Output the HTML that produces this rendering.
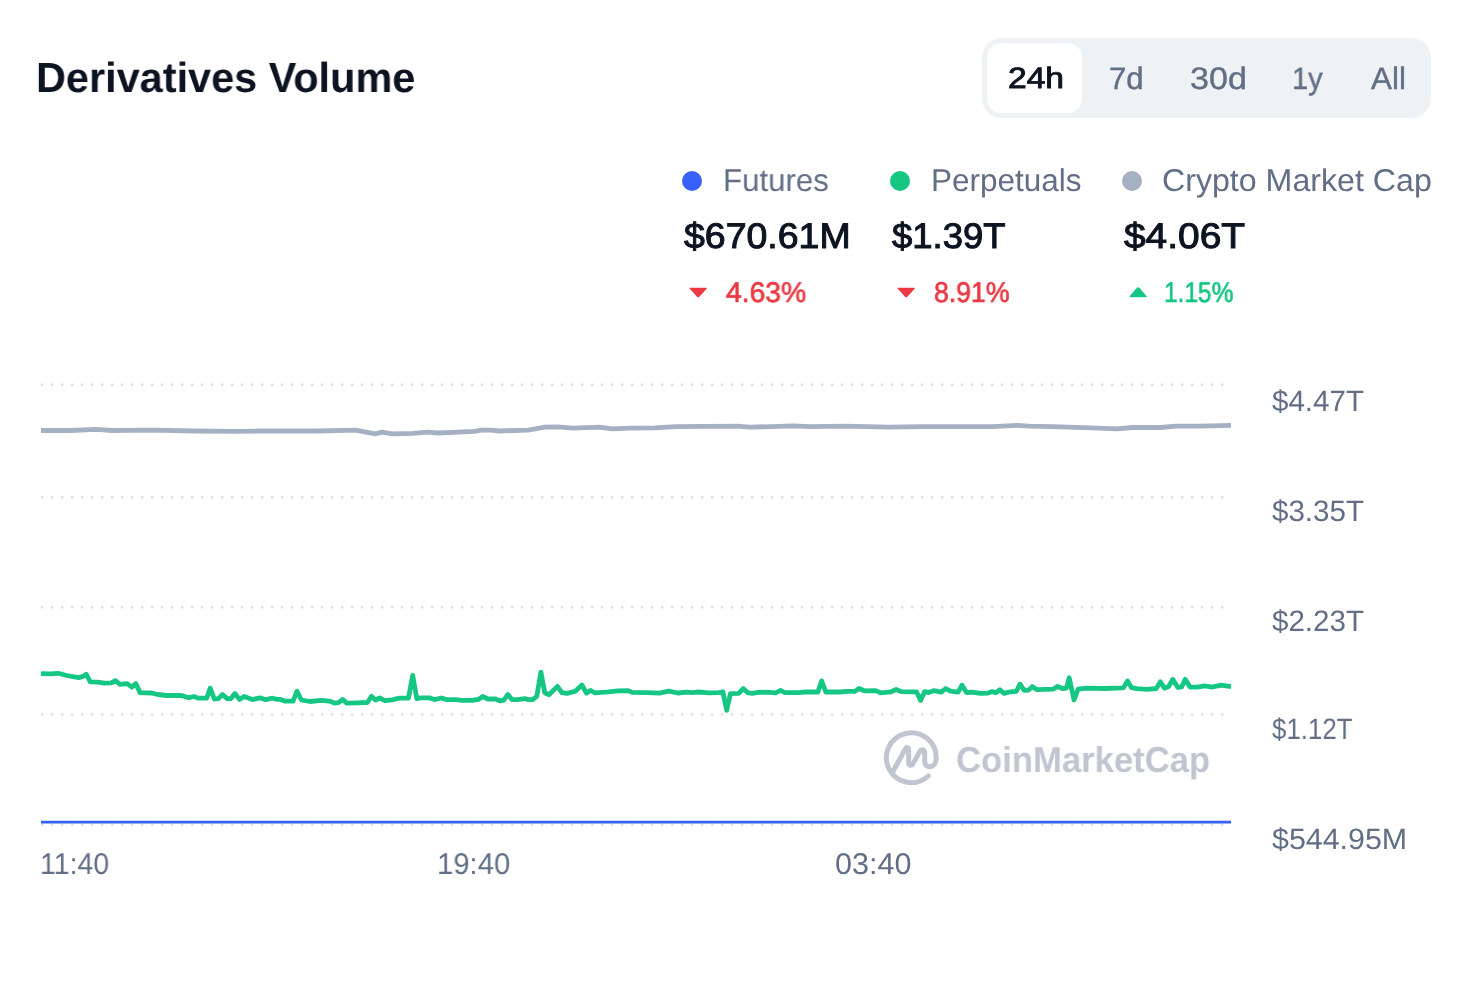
<!DOCTYPE html>
<html lang="en"><head><meta charset="utf-8"><title>Derivatives Volume</title>
<style>
html,body{margin:0;padding:0;background:#fff}
body{width:1457px;height:993px;position:relative;overflow:hidden;font-family:"Liberation Sans",Arial,sans-serif}
.t{text-rendering:geometricPrecision;will-change:transform;position:absolute;display:block;white-space:nowrap;line-height:1;transform-origin:0 0}
.header,.legend{position:absolute;left:0;top:0;width:1457px;height:0}
.tabs{position:absolute;left:982.2px;top:37.85px;width:448.5px;height:79.95px;border-radius:19.4px;background:#EFF2F5}
.pill{position:absolute;left:4.95px;top:4.92px;width:95.35px;height:70.3px;border-radius:14.6px;background:#fff}
.dot{position:absolute;width:20px;height:20px;border-radius:50%}
.tri{position:absolute;display:block}
.chartwrap{position:absolute;left:0;top:360px;width:1457px;height:560px}
.chart{position:absolute;left:0;top:0;display:block}
</style></head>
<body>
<div class="header"><span class="t title" style="left:35.50px;top:57px;font-size:42.0px;font-weight:700;color:#0D1421;transform:scaleX(0.9868)">Derivatives Volume</span>
<div class="tabs"><div class="pill"></div><span class="t tab" style="left:25.73px;top:26px;font-size:29.5px;font-weight:400;color:#0D1421;-webkit-text-stroke:0.90px #0D1421;transform:scaleX(1.1389)">24h</span><span class="t tab" style="left:126.54px;top:25px;font-size:31.0px;font-weight:400;color:#616E85;-webkit-text-stroke:0.40px #616E85;transform:scaleX(1.0064)">7d</span><span class="t tab" style="left:207.86px;top:25px;font-size:31.0px;font-weight:400;color:#616E85;-webkit-text-stroke:0.40px #616E85;transform:scaleX(1.0993)">30d</span><span class="t tab" style="left:310.07px;top:25px;font-size:31.0px;font-weight:400;color:#616E85;-webkit-text-stroke:0.40px #616E85;transform:scaleX(0.9353)">1y</span><span class="t tab" style="left:389.00px;top:25px;font-size:31.0px;font-weight:400;color:#616E85;-webkit-text-stroke:0.40px #616E85;transform:scaleX(1.0137)">All</span></div></div>
<div class="legend"><i class="dot" style="left:682.2px;top:170.8px;background:#3861FB"></i>
<span class="t lab" style="left:722.50px;top:165px;font-size:31.5px;font-weight:400;color:#616E85;transform:scaleX(0.9912)">Futures</span>
<span class="t val" style="left:683.85px;top:219px;font-size:35.5px;font-weight:400;color:#0D1421;-webkit-text-stroke:1.00px #0D1421;transform:scaleX(1.0553)">$670.61M</span>
<svg class="tri" style="left:689.0px;top:286.9px" width="18.4" height="10.7" viewBox="0 0 18.4 10.6"><path d="M1.6 0.6 H16.8 Q18.6 0.6 17.4 2 L10.4 9.6 Q9.2 10.8 8 9.6 L1 2 Q-0.2 0.6 1.6 0.6Z" fill="#EA3943"/></svg>
<span class="t pct" style="left:725.88px;top:279px;font-size:28.5px;font-weight:400;color:#EA3943;-webkit-text-stroke:0.70px #EA3943;transform:scaleX(0.9921)">4.63%</span>
<i class="dot" style="left:890.0px;top:170.8px;background:#16C784"></i>
<span class="t lab" style="left:930.88px;top:165px;font-size:31.5px;font-weight:400;color:#616E85;transform:scaleX(0.9994)">Perpetuals</span>
<span class="t val" style="left:891.75px;top:219px;font-size:35.5px;font-weight:400;color:#0D1421;-webkit-text-stroke:1.00px #0D1421;transform:scaleX(1.0268)">$1.39T</span>
<svg class="tri" style="left:897.4px;top:286.9px" width="18.4" height="10.7" viewBox="0 0 18.4 10.6"><path d="M1.6 0.6 H16.8 Q18.6 0.6 17.4 2 L10.4 9.6 Q9.2 10.8 8 9.6 L1 2 Q-0.2 0.6 1.6 0.6Z" fill="#EA3943"/></svg>
<span class="t pct" style="left:933.96px;top:279px;font-size:28.5px;font-weight:400;color:#EA3943;-webkit-text-stroke:0.70px #EA3943;transform:scaleX(0.9350)">8.91%</span>
<i class="dot" style="left:1122.0px;top:170.8px;background:#A6B0C3"></i>
<span class="t lab" style="left:1162.29px;top:165px;font-size:31.5px;font-weight:400;color:#616E85;transform:scaleX(1.0205)">Crypto Market Cap</span>
<span class="t val" style="left:1123.86px;top:219px;font-size:35.5px;font-weight:400;color:#0D1421;-webkit-text-stroke:1.00px #0D1421;transform:scaleX(1.0948)">$4.06T</span>
<svg class="tri" style="left:1129.2px;top:286.9px" width="18.3" height="10.7" viewBox="0 0 18.4 10.6"><path d="M1.6 10.2 H16.8 Q18.6 10.2 17.4 8.8 L10.4 0.8 Q9.2 -0.4 8 0.8 L1 8.8 Q-0.2 10.2 1.6 10.2Z" fill="#16C784"/></svg>
<span class="t pct" style="left:1163.74px;top:279px;font-size:28.5px;font-weight:400;color:#16C784;-webkit-text-stroke:0.70px #16C784;transform:scaleX(0.8591)">1.15%</span></div>
<div class="chartwrap"><svg class="chart" width="1457" height="560" viewBox="0 360 1457 560">
<line x1="41" x2="1224" y1="384.7" y2="384.7" stroke="#DEDEDE" stroke-width="2.4" stroke-dasharray="2.4 7.6"/>
<line x1="41" x2="1224" y1="497.3" y2="497.3" stroke="#DEDEDE" stroke-width="2.4" stroke-dasharray="2.4 7.6"/>
<line x1="41" x2="1224" y1="607.2" y2="607.2" stroke="#DEDEDE" stroke-width="2.4" stroke-dasharray="2.4 7.6"/>
<line x1="41" x2="1224" y1="714.6" y2="714.6" stroke="#DEDEDE" stroke-width="2.4" stroke-dasharray="2.4 7.6"/>
<line x1="41" x2="1224" y1="824.6" y2="824.6" stroke="#DEDEDE" stroke-width="2.4" stroke-dasharray="2.4 7.6"/>
<g class="wm" fill="none" stroke="#C0C5D0" stroke-width="5.0" stroke-linecap="round" stroke-linejoin="round" transform="translate(875 722)"><path d="M53.3 54.0A24.95 24.95 0 1 1 61.28 36.11C61.28 41 58.5 44.7 54.4 44.7C51.5 44.7 49.7 42.5 49.7 39L49.7 31.5C49.7 27.6 46.6 26.6 44.8 29.4L38.4 41C36.6 44.4 33.7 43.8 33.7 40.6L33.7 28.4C33.7 24.9 31.7 24.7 30.5 26.7L17.8 49.8"/></g>
<polyline points="41.0,430.5 71.2,430.5 95.9,429.3 112.4,430.5 153.6,430.1 194.7,431.0 235.9,431.4 260.6,431.0 318.3,431.0 355.4,430.1 375.1,433.8 382.1,432.2 392.4,433.8 413.0,433.4 427.4,432.2 437.7,433.0 474.8,431.4 481.0,430.1 491.3,430.1 499.5,431.0 528.3,430.1 544.8,427.2 557.2,426.8 573.6,428.1 598.4,427.2 612.8,428.9 630.0,428.1 654.6,427.9 676.2,426.6 736.7,426.2 749.7,427.1 771.3,426.6 793.0,425.8 810.3,426.6 844.8,426.2 888.1,427.1 922.7,426.6 991.9,426.6 1017.8,425.3 1028.6,426.2 1052.4,426.6 1091.3,427.9 1117.3,428.8 1132.4,427.5 1160.5,427.5 1175.6,426.2 1199.4,426.2 1231.0,425.3" fill="none" stroke="#A6B0C3" stroke-width="4.8" stroke-linejoin="round" stroke-linecap="butt"/>
<polyline points="41.0,673.7 50.6,673.9 58.2,673.3 66.6,675.5 78.6,677.6 83.1,676.4 86.2,674.3 90.3,681.9 97.9,682.1 104.1,683.1 111.3,682.9 115.4,680.7 120.0,684.4 127.2,683.6 131.9,687.1 135.8,683.6 140.1,692.6 151.5,693.0 157.7,694.5 166.9,695.5 178.2,695.3 182.4,695.7 188.5,697.8 193.7,696.5 197.8,698.0 206.7,698.2 210.2,688.1 214.3,699.0 218.4,698.6 222.5,694.5 227.2,698.6 230.7,698.6 234.9,693.6 239.6,699.4 244.1,696.5 252.4,699.6 259.6,697.8 265.7,699.6 272.5,698.2 277.1,699.4 280.2,699.4 285.3,701.1 293.1,701.1 297.0,691.2 301.4,700.0 310.0,701.5 321.3,700.4 329.3,701.1 334.4,703.1 338.5,702.7 342.6,699.4 346.8,703.1 357.1,702.9 367.4,702.5 371.5,696.3 375.6,700.0 379.7,698.0 384.9,700.6 392.1,699.8 399.3,698.2 408.5,698.0 412.7,675.4 416.8,698.6 420.9,697.8 429.1,697.8 434.3,699.6 441.5,698.0 446.6,699.6 455.9,699.6 462.1,700.4 472.4,700.4 478.5,699.4 482.7,696.5 487.8,699.0 495.0,698.8 500.2,700.9 503.9,700.2 507.8,694.5 511.9,699.6 517.7,699.6 524.9,698.6 528.4,699.6 532.7,699.6 536.8,696.3 540.9,672.2 544.8,692.8 549.0,694.7 557.4,686.4 561.9,692.6 567.1,693.4 575.3,691.2 581.9,685.0 586.6,693.2 590.3,690.4 594.9,692.8 608.2,691.8 618.2,690.8 627.5,690.6 632.6,692.4 647.1,692.6 659.4,693.2 668.7,691.2 677.9,693.0 686.2,692.2 692.4,692.6 698.5,692.0 708.8,692.8 719.1,692.6 722.8,691.8 726.7,710.3 730.4,693.6 738.7,693.4 743.2,688.5 747.5,692.6 752.1,693.4 758.2,692.4 766.5,692.2 775.7,692.8 780.5,690.4 785.0,692.6 799.4,692.6 805.6,691.8 817.9,692.0 821.6,680.9 825.8,692.0 840.6,692.0 846.8,691.4 855.0,691.4 859.1,688.5 864.3,690.8 875.6,690.6 880.7,692.8 891.0,691.8 896.2,689.5 901.3,691.6 910.0,691.8 916.5,691.8 920.6,700.4 924.7,691.6 928.8,692.6 934.0,690.6 941.2,692.2 945.7,688.5 950.4,691.2 958.1,692.2 962.0,685.2 966.5,692.6 972.1,692.2 980.3,693.4 987.5,693.2 992.0,691.6 995.7,692.8 999.9,689.7 1004.0,693.4 1010.2,691.8 1016.3,691.4 1020.0,684.2 1024.2,690.4 1028.7,690.1 1032.2,686.6 1036.9,689.7 1053.4,689.1 1057.5,686.4 1062.7,688.7 1066.4,688.1 1069.2,677.8 1074.0,700.0 1078.1,689.1 1086.3,688.1 1103.8,688.5 1123.4,687.9 1127.5,680.9 1131.6,687.7 1136.8,688.7 1147.1,689.3 1156.3,688.5 1160.4,681.8 1164.5,688.2 1168.6,686.6 1172.7,679.4 1177.9,687.5 1181.8,686.8 1185.3,679.3 1190.0,687.0 1197.4,687.1 1204.6,685.8 1211.8,687.1 1221.0,685.2 1231.0,686.6" fill="none" stroke="#16C784" stroke-width="4.8" stroke-linejoin="round" stroke-linecap="butt"/>
<line x1="41" x2="1231" y1="822.1" y2="822.1" stroke="#3861FB" stroke-width="2.6"/>
</svg>
<span class="t yl" style="left:1272.10px;top:27px;font-size:29.5px;font-weight:400;color:#616E85;transform:scaleX(1.0015)">$4.47T</span>
<span class="t yl" style="left:1272.10px;top:137px;font-size:29.5px;font-weight:400;color:#616E85;transform:scaleX(1.0015)">$3.35T</span>
<span class="t yl" style="left:1272.10px;top:247px;font-size:29.5px;font-weight:400;color:#616E85;transform:scaleX(1.0015)">$2.23T</span>
<span class="t yl" style="left:1271.84px;top:355px;font-size:29.5px;font-weight:400;color:#616E85;transform:scaleX(0.8761)">$1.12T</span>
<span class="t yl" style="left:1271.80px;top:465px;font-size:29.5px;font-weight:400;color:#616E85;transform:scaleX(1.0302)">$544.95M</span>
<span class="t xl" style="left:39.92px;top:490px;font-size:30.0px;font-weight:400;color:#616E85;transform:scaleX(0.9481)">11:40</span>
<span class="t xl" style="left:436.56px;top:490px;font-size:30.0px;font-weight:400;color:#616E85;transform:scaleX(0.9748)">19:40</span>
<span class="t xl" style="left:835.18px;top:490px;font-size:30.0px;font-weight:400;color:#616E85;transform:scaleX(1.0179)">03:40</span>
<span class="t wmt" style="left:955.61px;top:382px;font-size:36.0px;font-weight:700;color:#C0C5D0;transform:scaleX(0.9625)">CoinMarketCap</span></div>
</body></html>
